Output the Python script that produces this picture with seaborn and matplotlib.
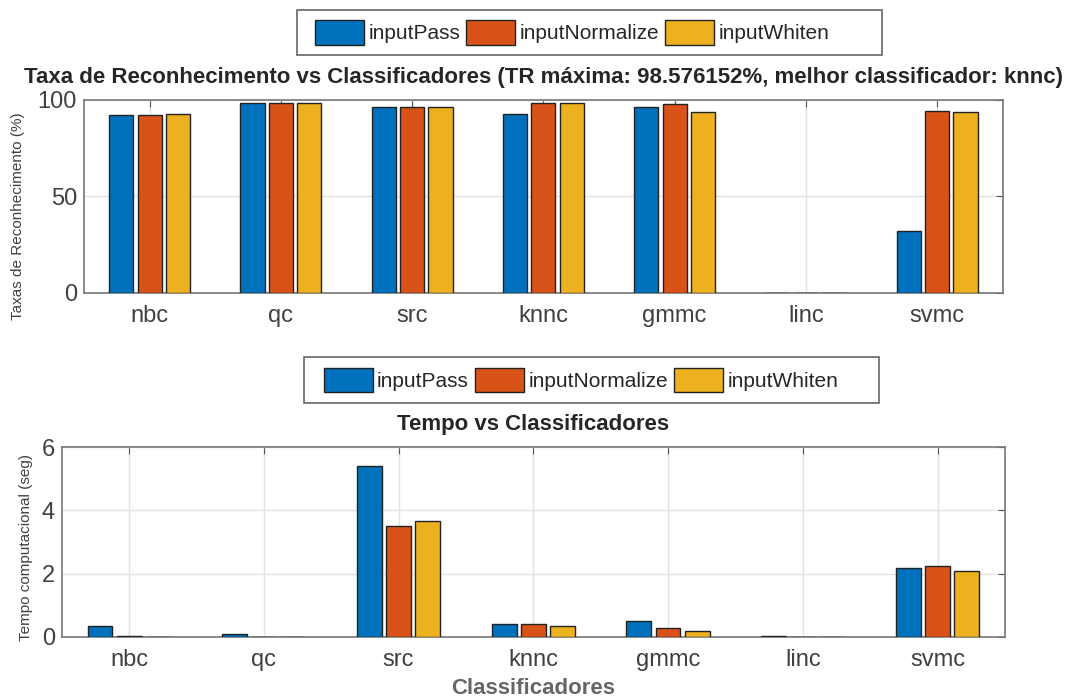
import pandas as pd
import numpy as np
import matplotlib
matplotlib.use('Agg')
import matplotlib.pyplot as plt
from matplotlib.patches import Rectangle
import seaborn as sns

# dados
classificadores = ['nbc', 'qc', 'src', 'knnc', 'gmmc', 'linc', 'svmc']
metodos = ['inputPass', 'inputNormalize', 'inputWhiten']

tr_pass = [92.2, 98.3, 96.5, 92.7, 96.5, 0.0, 31.9]
tr_normalize = [92.2, 98.4, 96.5, 98.576152, 97.8, 0.0, 94.5]
tr_whiten = [92.7, 98.3, 96.5, 98.5, 93.9, 0.0, 93.9]

tempo_pass = [0.34, 0.08, 5.41, 0.39, 0.50, 0.03, 2.18]
tempo_normalize = [0.03, 0.0, 3.50, 0.39, 0.27, 0.0, 2.25]
tempo_whiten = [0.0, 0.0, 3.66, 0.34, 0.19, 0.0, 2.09]

cores = ['#0072BD', '#D95319', '#EDB120']


def monta_df(a, b, c):
    linhas = []
    for vals, m in zip([a, b, c], metodos):
        for cl, v in zip(classificadores, vals):
            linhas.append({'classificador': cl, 'metodo': m, 'valor': v})
    return pd.DataFrame(linhas)


df_tr = monta_df(tr_pass, tr_normalize, tr_whiten)
df_tempo = monta_df(tempo_pass, tempo_normalize, tempo_whiten)

sns.set_style('white')
plt.rcParams['font.family'] = ['Liberation Sans', 'DejaVu Sans']

W, H = 1084, 699
fig = plt.figure(figsize=(W / 100, H / 100), dpi=100)
ax1 = fig.add_axes([0.0775, 0.581, 0.8475, 0.276])
ax2 = fig.add_axes([0.057, 0.089, 0.870, 0.2715])

cinza = '#404040'


def desenha(ax, df, ylim, yticks):
    sns.barplot(data=df, x='classificador', y='valor', hue='metodo',
                palette=cores, width=0.65, gap=0.15, ax=ax,
                edgecolor='#222222', linewidth=1.0, saturation=1, zorder=3)
    ax.set_xlim(-0.5, 6.5)
    ax.set_ylim(*ylim)
    ax.set_yticks(yticks)
    ax.grid(True, color='#e3e3e3', linewidth=1.0, zorder=0)
    ax.set_axisbelow(True)
    ax.tick_params(direction='in', top=True, right=True, length=5,
                   color='#555555', labelsize=17, labelcolor=cinza)
    ax.tick_params(axis='x', pad=9)
    ax.tick_params(axis='y', pad=5)
    for s in ax.spines.values():
        s.set_color('#777777')
        s.set_linewidth(1.2)
    ax.set_xlabel('')
    ax.get_legend().remove()


desenha(ax1, df_tr, (0, 100), [0, 50, 100])
desenha(ax2, df_tempo, (0, 6), [0, 2, 4, 6])

ax1.set_ylabel('Taxas de Reconhecimento (%)', fontsize=11, color=cinza)
ax1.yaxis.set_label_coords(-0.064, 0.40)
ax2.set_ylabel('Tempo computacional (seg)', fontsize=11, color=cinza)
ax2.yaxis.set_label_coords(-0.031, 0.47)
ax1.set_title('Taxa de Reconhecimento vs Classificadores (TR máxima: 98.576152%, melhor classificador: knnc)',
              fontsize=16, fontweight='bold', pad=12)
ax2.set_title('Tempo vs Classificadores', fontsize=16, fontweight='bold', pad=12)
ax2.set_xlabel('Classificadores', fontsize=16, fontweight='bold', color='#666666', labelpad=5)

handles, labels = ax1.get_legend_handles_labels()
if not handles:
    from matplotlib.patches import Patch
    handles = [Patch(facecolor=c, edgecolor='#222222') for c in cores]
    labels = metodos

# legendas acima de cada gráfico, com a caixa no estilo do MATLAB
caixas = [(297, 10, 882, 55, 315), (304, 357, 879, 403, 324)]
for x0, y0, x1, y1, xh in caixas:
    fig.legend(handles, labels, loc='center left',
               bbox_to_anchor=(xh / W, 1 - (y0 + y1) / 2 / H),
               ncol=3, fontsize=15, frameon=False, borderpad=0, borderaxespad=0,
               handlelength=2.35, handleheight=1.45,
               handletextpad=0.2, columnspacing=0.3)
    fig.patches.append(Rectangle((x0 / W, 1 - y1 / H), (x1 - x0) / W, (y1 - y0) / H,
                                 transform=fig.transFigure, fill=False,
                                 edgecolor='#666666', linewidth=1.2))

fig.savefig('out.png', dpi=100)
